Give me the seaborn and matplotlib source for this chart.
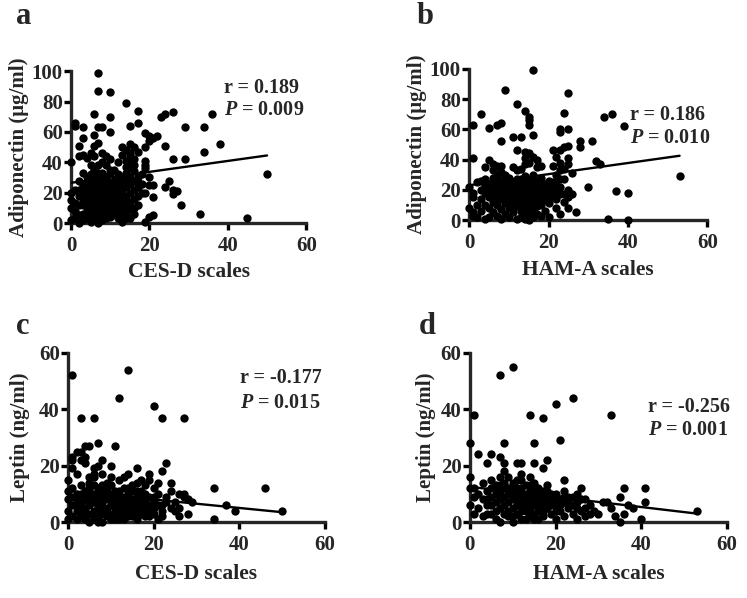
import matplotlib
matplotlib.use("Agg")
import matplotlib.pyplot as plt
import pandas as pd
import seaborn as sns

# (score, hormone level) pairs
cesd_adipo = [
    (7, 99), (7, 87), (10, 86), (14, 79), (17, 74), (6, 72), (10, 70), (23, 70), (24, 72), (26, 73), (36, 72),
    (1, 66), (1, 64), (17, 66), (15, 64), (7, 63), (8, 63), (3, 63), (10, 60),
    (19, 59), (20, 57), (21, 56), (22, 57), (20, 54), (29, 63), (34, 63), (38, 52), (34, 47), (24, 51),
    (3, 56), (6, 58), (2, 51), (6, 51), (7, 53), (2, 44), (3, 45), (4, 43), (5, 46), (0, 40),
    (13, 50), (19, 50), (26, 42), (29, 42), (19, 41), (19, 38), (50, 32), (33, 6), (45, 3),
    (25, 28), (24, 24), (26, 22), (27, 21), (26, 19), (28, 12), (21, 17), (21, 25), (20, 25), (19, 20),
    (21, 5), (20, 4), (19, 1),
    (14, 48), (15, 46), (15, 44), (16, 42), (14, 41), (15, 40), (16, 38), (14, 37), (15, 36), (16, 34),
    (13, 45), (17, 47), (14, 33), (16, 50), (15, 52),
    (12, 32), (11, 35), (9, 38), (8, 40), (10, 33), (12, 28), (13, 30), (17, 30), (18, 32), (19, 36),
    (20, 30), (17, 27),
    (0, 20), (0, 10), (0, 2), (0, 15), (1, 22), (1, 8), (1, 3), (1, 13), (2, 18), (2, 5), (2, 28), (2, 0),
    (3, 25), (3, 12), (3, 2), (3, 33), (3, 20), (4, 22), (4, 15), (4, 8), (4, 30), (4, 26), (4, 3),
    (5, 24), (5, 18), (5, 10), (5, 5), (5, 28), (5, 32), (5, 1),
    (6, 22), (6, 16), (6, 12), (6, 6), (6, 27), (6, 35), (6, 2), (6, 19),
    (7, 25), (7, 20), (7, 14), (7, 9), (7, 4), (7, 30), (7, 38), (7, 17), (7, 0),
    (8, 22), (8, 12), (8, 6), (8, 28), (8, 2), (8, 33), (8, 18),
    (9, 26), (9, 16), (9, 8), (9, 30), (9, 3), (9, 21),
    (10, 24), (10, 14), (10, 35), (10, 10), (10, 4), (10, 19),
    (11, 22), (11, 12), (11, 28), (11, 6), (11, 17),
    (12, 20), (12, 8), (12, 15), (12, 3), (12, 25),
    (13, 18), (13, 10), (13, 22), (13, 5), (13, 1),
    (14, 24), (14, 14), (14, 7), (14, 12), (15, 26), (15, 20), (15, 3), (15, 9),
    (16, 22), (16, 16), (16, 28), (17, 12), (17, 24), (18, 20), (18, 26),
    (2, 12), (2, 22), (3, 16), (3, 6), (4, 18), (4, 12), (5, 14), (5, 21), (6, 9), (6, 24), (6, 30),
    (7, 22), (7, 11), (7, 27), (7, 33), (8, 15), (8, 9), (8, 25), (8, 20), (9, 12), (9, 18), (9, 24),
    (9, 5), (10, 8), (10, 16), (10, 27), (10, 22), (11, 15), (11, 9), (11, 25), (11, 20), (12, 12),
    (12, 18), (12, 23), (13, 14), (13, 26), (14, 18), (14, 28), (14, 3), (15, 14), (15, 30), (16, 10),
    (16, 6), (17, 18), (6, 44), (8, 46), (5, 38), (9, 44), (12, 40), (10, 42),
]

hama_adipo = [
    (16, 99), (9, 86), (25, 84), (12, 77), (14, 72), (24, 71), (3, 70), (15, 68), (15, 66), (15, 63),
    (1, 63), (5, 61), (7, 63), (8, 64), (23, 60), (23, 58), (25, 60), (34, 68), (36, 70), (39, 62),
    (8, 52), (11, 55), (13, 55), (16, 56), (28, 52), (28, 48), (31, 52),
    (1, 41), (32, 39), (33, 37), (53, 29), (30, 22), (37, 19), (40, 18), (35, 1), (40, 0), (27, 5), (23, 4),
    (21, 46), (23, 46), (24, 48), (25, 49), (22, 42), (25, 41), (23, 38), (25, 37), (23, 33), (21, 36),
    (24, 34), (26, 31), (22, 30),
    (12, 46), (14, 45), (15, 44), (14, 41), (16, 42), (15, 38), (17, 40), (14, 37), (11, 35), (12, 33),
    (13, 34), (18, 36), (17, 35),
    (5, 40), (6, 37), (7, 36), (8, 36), (6, 33), (8, 32), (9, 30), (10, 28), (4, 35), (7, 29),
    (17, 17), (18, 15), (19, 13), (24, 17), (25, 15), (26, 17), (21, 25), (22, 23), (23, 27),
    (1, 18), (1, 15), (1, 5), (1, 3), (2, 10),
    (0, 8), (0, 22), (2, 25), (2, 2), (3, 20), (3, 14), (3, 6), (4, 27), (4, 18), (4, 10), (4, 1),
    (5, 24), (5, 15), (5, 8), (5, 2), (6, 28), (6, 20), (6, 12), (6, 5),
    (7, 25), (7, 18), (7, 10), (7, 3), (7, 22), (8, 26), (8, 20), (8, 14), (8, 7), (8, 1),
    (9, 24), (9, 17), (9, 11), (9, 4), (10, 22), (10, 15), (10, 8), (10, 2),
    (11, 25), (11, 18), (11, 12), (11, 5), (12, 27), (12, 20), (12, 14), (12, 9), (12, 1),
    (13, 24), (13, 17), (13, 11), (13, 6), (13, 2), (14, 29), (14, 22), (14, 15), (14, 19), (14, 8), (14, 3),
    (15, 26), (15, 20), (15, 13), (15, 10), (15, 5), (15, 0),
    (16, 24), (16, 17), (16, 11), (16, 7), (16, 2), (16, 30),
    (17, 22), (17, 26), (17, 9), (17, 4), (18, 20), (18, 28), (18, 10), (18, 3),
    (19, 24), (19, 18), (19, 6), (20, 21), (20, 11), (20, 2), (21, 15), (22, 19), (22, 8),
    (23, 22), (24, 12), (24, 27), (25, 20), (25, 8),
    (6, 16), (6, 24), (7, 14), (7, 30), (8, 17), (8, 23), (9, 20), (9, 27), (9, 14), (10, 18), (10, 25),
    (10, 12), (11, 21), (11, 15), (11, 9), (12, 17), (12, 23), (12, 11), (13, 20), (13, 14), (13, 27),
    (14, 12), (14, 25), (15, 17), (15, 23), (15, 8), (16, 20), (16, 14), (16, 27), (17, 18), (17, 13),
    (18, 17), (18, 24), (19, 21), (19, 15), (20, 16), (20, 26), (3, 26), (4, 23), (5, 20), (21, 20),
    (22, 14), (23, 17), (16, 4), (14, 1),
]

cesd_leptin = [
    (1, 52), (14, 54), (12, 44), (20, 41), (22, 37), (27, 37), (3, 37), (6, 37),
    (4, 27), (5, 27), (7, 28), (11, 27), (1, 23), (1, 22), (4, 23), (4, 21), (7, 20), (6, 19), (6, 17),
    (5, 16), (6, 16), (5, 14), (2, 17), (10, 20), (10, 16), (14, 17), (19, 17), (22, 18), (23, 21),
    (34, 12), (46, 12), (20, 12), (15, 13), (16, 14),
    (27, 9), (29, 7), (37, 6), (39, 4), (50, 4), (34, 1), (26, 5), (28, 3), (19, 4), (21, 1),
    (2, 25), (3, 25), (1, 19), (8, 22), (9, 14), (12, 15), (13, 16), (17, 15), (18, 13), (21, 14),
    (24, 14), (16, 19), (19, 15), (3, 22), (8, 17),
    (0, 15), (0, 11), (0, 8), (0, 4), (0, 1), (1, 12), (1, 6), (1, 2), (2, 10), (2, 4), (2, 8),
    (3, 13), (3, 7), (3, 2), (3, 10), (4, 11), (4, 5), (4, 1), (4, 8),
    (5, 12), (5, 9), (5, 6), (5, 3), (5, 0), (6, 13), (6, 10), (6, 7), (6, 4), (6, 1),
    (7, 12), (7, 8), (7, 5), (7, 2), (7, 10), (8, 11), (8, 7), (8, 3), (8, 0), (8, 9),
    (9, 12), (9, 8), (9, 5), (9, 2), (10, 10), (10, 6), (10, 3), (10, 13),
    (11, 9), (11, 5), (11, 1), (12, 11), (12, 7), (12, 3), (13, 9), (13, 5), (13, 1), (13, 12),
    (14, 10), (14, 6), (14, 2), (15, 8), (15, 4), (15, 11), (16, 9), (16, 5), (16, 1),
    (17, 11), (17, 7), (17, 3), (18, 10), (18, 6), (18, 2), (19, 9), (20, 7), (20, 3),
    (21, 10), (22, 6), (22, 2), (23, 9), (24, 5), (25, 7), (26, 10), (26, 2), (27, 10), (28, 8), (24, 11),
    (1, 9), (2, 6), (2, 1), (3, 5), (4, 3), (4, 10), (5, 7), (5, 11), (6, 3), (6, 9), (7, 6), (7, 0),
    (8, 5), (8, 13), (9, 3), (9, 10), (10, 1), (10, 8), (11, 3), (11, 7), (11, 11), (12, 5), (12, 9),
    (12, 1), (13, 3), (13, 7), (14, 4), (14, 8), (14, 12), (15, 6), (15, 2), (16, 3), (16, 7), (16, 11),
    (17, 5), (17, 9), (18, 4), (18, 8), (19, 6), (19, 2), (20, 5), (20, 9), (21, 6), (22, 4), (23, 7), (25, 4),
]

hama_leptin = [
    (7, 52), (10, 55), (1, 38), (14, 38), (17, 37), (20, 42), (24, 44), (33, 38),
    (0, 28), (2, 24), (8, 28), (15, 28), (21, 29), (5, 24), (7, 23), (8, 21), (4, 21), (12, 21),
    (11, 21), (15, 21), (18, 22), (17, 19), (14, 16), (12, 17),
    (22, 15), (36, 12), (41, 12), (41, 7), (35, 9), (53, 4), (32, 7), (26, 12), (37, 6), (38, 5), (0, 16), (1, 12),
    (2, 10), (2, 5), (3, 14), (3, 8), (3, 2), (4, 11), (4, 6), (5, 15), (5, 9), (5, 3), (6, 13), (6, 7), (6, 1),
    (7, 16), (7, 11), (7, 5), (7, 0), (8, 14), (8, 9), (8, 3), (8, 18), (9, 12), (9, 7), (9, 2), (9, 16),
    (10, 14), (10, 10), (10, 5), (10, 0), (11, 12), (11, 8), (11, 3), (12, 15), (12, 10), (12, 6), (12, 1),
    (13, 13), (13, 8), (13, 4), (14, 11), (14, 7), (14, 2), (14, 13), (15, 10), (15, 6), (15, 1), (15, 14),
    (16, 12), (16, 8), (16, 4), (17, 11), (17, 6), (17, 2), (18, 9), (18, 5), (18, 13),
    (19, 8), (19, 3), (20, 10), (20, 6), (20, 1), (21, 8), (21, 4), (22, 11), (22, 7), (22, 2),
    (23, 9), (23, 5), (24, 6), (24, 3), (25, 10), (25, 7), (25, 1), (26, 4), (27, 8), (27, 2),
    (28, 6), (29, 4), (30, 3), (31, 7), (33, 5), (34, 2), (36, 3), (40, 1), (35, 0),
    (4, 8), (4, 3), (5, 12), (5, 6), (6, 10), (6, 4), (7, 8), (7, 13), (8, 6), (8, 12), (9, 10), (9, 4),
    (10, 8), (10, 12), (10, 2), (11, 10), (11, 6), (11, 15), (12, 8), (12, 12), (12, 4), (13, 10), (13, 6),
    (13, 1), (14, 9), (14, 5), (15, 8), (15, 3), (15, 12), (16, 10), (16, 6), (16, 1), (17, 8), (17, 4),
    (18, 7), (18, 11), (19, 6), (19, 10), (20, 8), (20, 4), (21, 6), (22, 9), (23, 7), (24, 9), (25, 5),
    (26, 8), (27, 5), (28, 3), (0, 6), (1, 9), (0, 12), (1, 3),
]

# regression line end points
fit_x = [[0, 50], [0, 53], [0, 50], [0, 53]]
fit_y = [[26.5, 44.5], [23, 42.5], [11, 3.5], [12.5, 3]]

panel_data = [cesd_adipo, hama_adipo, cesd_leptin, hama_leptin]
panel_letters = ["a", "b", "c", "d"]
x_titles = ["CES-D scales", "HAM-A scales", "CES-D scales", "HAM-A scales"]
y_titles = ["Adiponectin (\u03bcg/ml)", "Adiponectin (\u03bcg/ml)", "Leptin (ng/ml)", "Leptin (ng/ml)"]
y_max = [100, 100, 60, 60]
r_text = ["r = 0.189", "r = 0.186", "r = -0.177", "r = -0.256"]
p_text = ["$P$ = 0.009", "$P$ = 0.010", "$P$ = 0.015", "$P$ = 0.001"]

sns.set_theme(style="ticks")
plt.rcParams["font.family"] = ["Liberation Serif", "DejaVu Serif"]
plt.rcParams["font.weight"] = "bold"
plt.rcParams["mathtext.fontset"] = "custom"
plt.rcParams["mathtext.it"] = "Liberation Serif:italic:bold"
plt.rcParams["mathtext.rm"] = "Liberation Serif:bold"

fig = plt.figure(figsize=(7.47, 5.98), dpi=100)

# axes boxes in figure fractions
boxes = [
    [0.095, 0.627, 0.315, 0.254],
    [0.628, 0.632, 0.319, 0.253],
    [0.091, 0.127, 0.344, 0.283],
    [0.629, 0.127, 0.344, 0.283],
]
text_pos = [(0.651, 0.888, 0.743), (0.676, 0.695, 0.543), (0.669, 0.852, 0.704), (0.693, 0.680, 0.544)]
letter_pos = [(0.022, 0.997), (0.558, 0.997), (0.022, 0.479), (0.56, 0.479)]
xlabel_pad = [5, 5, 7, 7]
ylabel_pad = [2, 2, 6, 3]

for i in range(4):
    ax = fig.add_axes(boxes[i])
    df = pd.DataFrame(panel_data[i], columns=["score", "level"])
    sns.scatterplot(data=df, x="score", y="level", ax=ax, color="black", s=36,
                    linewidth=0, clip_on=False, zorder=3)
    sns.lineplot(x=fit_x[i], y=fit_y[i], ax=ax, color="black", linewidth=1.7, zorder=4)

    ax.set_xlim(0, 60)
    ax.set_ylim(0, y_max[i])
    ax.set_xticks([0, 20, 40, 60])
    ax.set_yticks(range(0, y_max[i] + 1, 20))
    sns.despine(ax=ax)
    for side in ["left", "bottom"]:
        ax.spines[side].set_linewidth(2.4)
    ax.tick_params(direction="out", length=5, width=2.4, labelsize=15, pad=1, color="black")
    ax.tick_params(axis="x", pad=4)
    for lab in ax.get_xticklabels() + ax.get_yticklabels():
        lab.set_fontweight("bold")

    ax.set_xlabel(x_titles[i], fontsize=15.5, fontweight="bold", labelpad=xlabel_pad[i])
    ax.set_ylabel(y_titles[i], fontsize=15, fontweight="bold", labelpad=ylabel_pad[i])

    tx, ty1, ty2 = text_pos[i]
    ax.text(tx, ty1, r_text[i], transform=ax.transAxes, fontsize=14.5, fontweight="bold", va="center")
    ax.text(tx, ty2, p_text[i], transform=ax.transAxes, fontsize=14.5, fontweight="bold", va="center")

    fig.text(letter_pos[i][0], letter_pos[i][1], panel_letters[i], fontsize=22, fontweight="bold",
             va="top", ha="left")

fig.savefig("out.png", dpi=100)
